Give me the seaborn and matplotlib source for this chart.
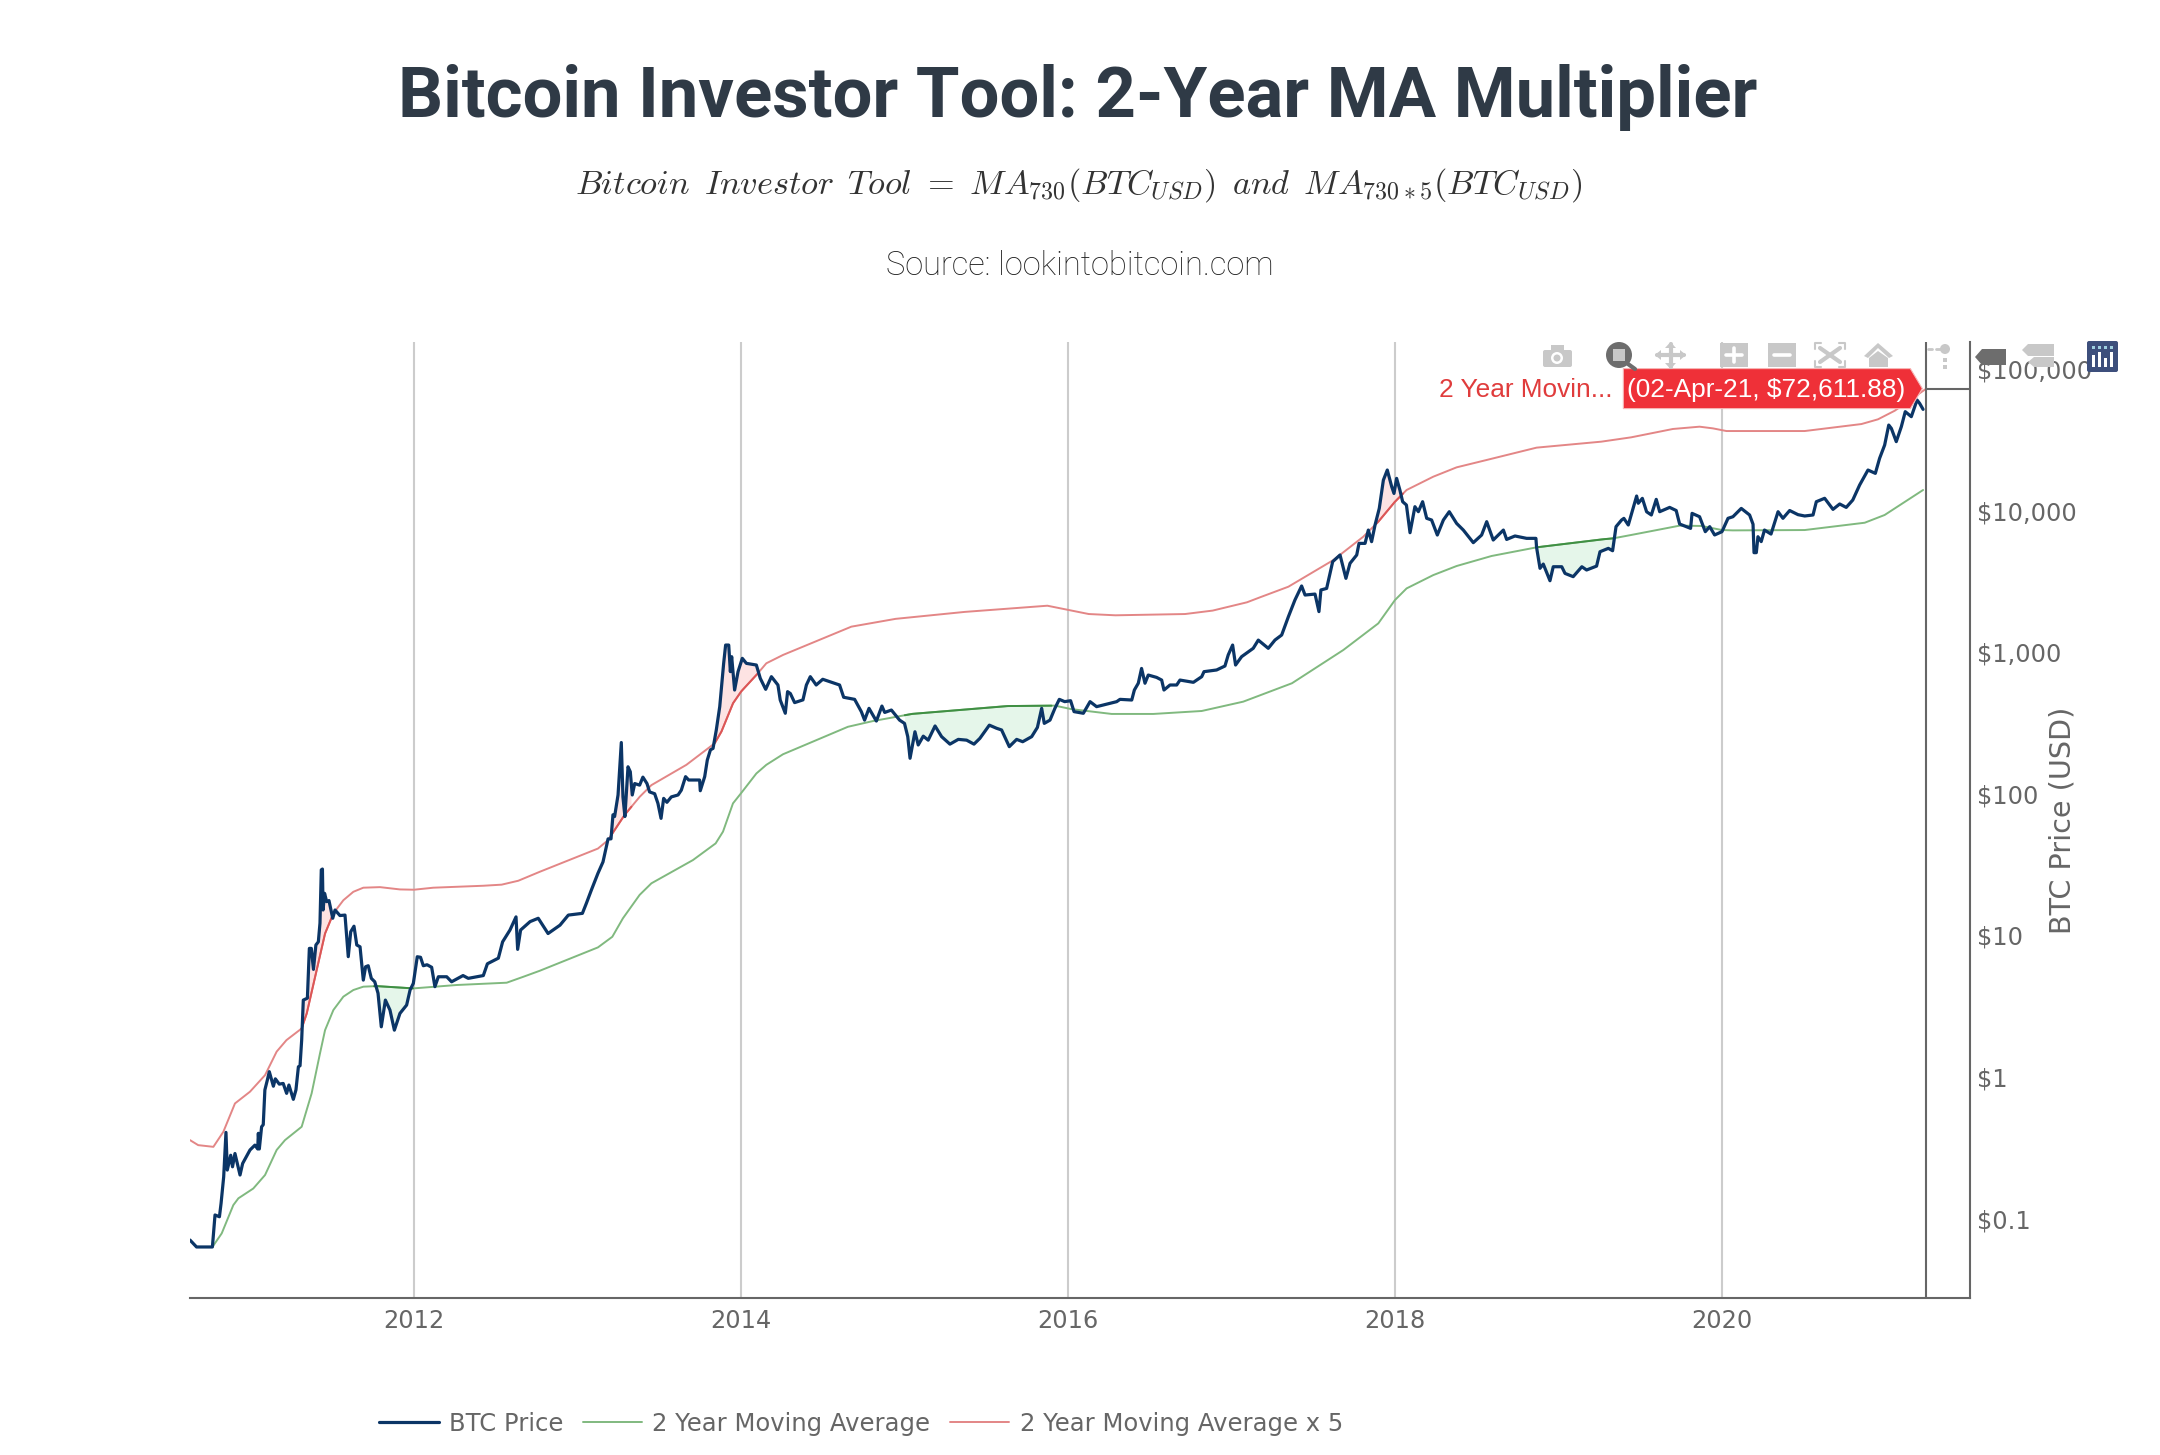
import numpy as np
import pandas as pd
import matplotlib
matplotlib.use("Agg")
import matplotlib.pyplot as plt
from matplotlib.patches import Polygon, Rectangle, Circle, FancyBboxPatch
import seaborn as sns

# values: x is decimal year, y is USD
price_year = [
    2010.63, 2010.67, 2010.71, 2010.767, 2010.783, 2010.81, 2010.82, 2010.836, 2010.85, 2010.858, 2010.879, 2010.89,
    2010.905, 2010.936, 2010.952, 2010.997, 2011.027, 2011.044, 2011.048, 2011.054, 2011.068, 2011.078, 2011.088,
    2011.103, 2011.115, 2011.14, 2011.152, 2011.176, 2011.2, 2011.221, 2011.235, 2011.262, 2011.278, 2011.293,
    2011.303, 2011.313, 2011.323, 2011.348, 2011.36, 2011.372, 2011.385, 2011.40, 2011.415, 2011.425, 2011.433,
    2011.44, 2011.444, 2011.453, 2011.466, 2011.48, 2011.503, 2011.517, 2011.547, 2011.578, 2011.598, 2011.613,
    2011.633, 2011.65, 2011.67, 2011.69, 2011.704, 2011.72, 2011.739, 2011.76, 2011.78, 2011.80, 2011.825, 2011.853,
    2011.88, 2011.914, 2011.955, 2011.976, 2011.996, 2012.02, 2012.04, 2012.057, 2012.08, 2012.108, 2012.128,
    2012.149, 2012.2, 2012.23, 2012.30, 2012.332, 2012.424, 2012.449, 2012.516, 2012.542, 2012.587, 2012.624,
    2012.634, 2012.652, 2012.71, 2012.76, 2012.82, 2012.893, 2012.944, 2013.03, 2013.054, 2013.085, 2013.125,
    2013.156, 2013.176, 2013.187, 2013.205, 2013.217, 2013.227, 2013.248, 2013.268, 2013.278, 2013.29, 2013.309,
    2013.323, 2013.335, 2013.35, 2013.38, 2013.40, 2013.425, 2013.441, 2013.472, 2013.492, 2013.511, 2013.527,
    2013.547, 2013.574, 2013.615, 2013.635, 2013.661, 2013.68, 2013.747, 2013.751, 2013.778, 2013.794, 2013.813,
    2013.829, 2013.849, 2013.87, 2013.894, 2013.906, 2013.925, 2013.935, 2013.943, 2013.961, 2013.982, 2014.008,
    2014.033, 2014.094, 2014.118, 2014.151, 2014.186, 2014.226, 2014.24, 2014.271, 2014.285, 2014.302, 2014.328,
    2014.379, 2014.40, 2014.424, 2014.46, 2014.50, 2014.573, 2014.603, 2014.628, 2014.695, 2014.736, 2014.756,
    2014.783, 2014.828, 2014.862, 2014.879, 2014.92, 2014.97, 2015.0, 2015.02, 2015.034, 2015.064, 2015.084,
    2015.115, 2015.145, 2015.187, 2015.227, 2015.278, 2015.329, 2015.38, 2015.425, 2015.461, 2015.519, 2015.563,
    2015.594, 2015.641, 2015.686, 2015.723, 2015.778, 2015.813, 2015.839, 2015.855, 2015.89, 2015.92, 2015.947,
    2015.98, 2016.016, 2016.037, 2016.094, 2016.135, 2016.175, 2016.298, 2016.318, 2016.39, 2016.406, 2016.43,
    2016.45, 2016.471, 2016.491, 2016.542, 2016.573, 2016.587, 2016.624, 2016.665, 2016.685, 2016.767, 2016.818,
    2016.832, 2016.909, 2016.96, 2016.98, 2017.007, 2017.025, 2017.062, 2017.133, 2017.164, 2017.225, 2017.266,
    2017.307, 2017.348, 2017.388, 2017.429, 2017.45, 2017.511, 2017.535, 2017.547, 2017.582, 2017.619, 2017.664,
    2017.70, 2017.725, 2017.766, 2017.78, 2017.817, 2017.837, 2017.857, 2017.878, 2017.904, 2017.929, 2017.953,
    2017.98, 2017.994, 2018.01, 2018.03, 2018.047, 2018.07, 2018.092, 2018.122, 2018.143, 2018.169, 2018.194,
    2018.224, 2018.259, 2018.296, 2018.332, 2018.377, 2018.418, 2018.479, 2018.53, 2018.561, 2018.601, 2018.663,
    2018.683, 2018.734, 2018.805, 2018.862, 2018.866, 2018.887, 2018.907, 2018.948, 2018.968, 2019.02, 2019.04,
    2019.09, 2019.143, 2019.172, 2019.233, 2019.254, 2019.305, 2019.331, 2019.352, 2019.386, 2019.40, 2019.427,
    2019.478, 2019.488, 2019.513, 2019.539, 2019.568, 2019.598, 2019.619, 2019.68, 2019.72, 2019.741, 2019.808,
    2019.817, 2019.863, 2019.898, 2019.925, 2019.955, 2020.0, 2020.037, 2020.067, 2020.118, 2020.169, 2020.19,
    2020.196, 2020.21, 2020.22, 2020.24, 2020.26, 2020.30, 2020.343, 2020.373, 2020.414, 2020.465, 2020.506, 2020.557,
    2020.577, 2020.628, 2020.679, 2020.72, 2020.76, 2020.80, 2020.842, 2020.893, 2020.938, 2020.964, 2020.995,
    2021.02, 2021.036, 2021.066, 2021.097, 2021.121, 2021.158, 2021.193, 2021.209, 2021.23,
]
price_usd = [
    0.0705, 0.063, 0.063, 0.063, 0.106, 0.103, 0.128, 0.197, 0.406, 0.22, 0.28, 0.232,
    0.288, 0.203, 0.245, 0.305, 0.33, 0.31, 0.40, 0.31, 0.445, 0.46, 0.81,
    0.95, 1.09, 0.86, 0.97, 0.89, 0.90, 0.766, 0.877, 0.695, 0.81, 1.18,
    1.2, 1.82, 3.49, 3.6, 8.09, 8.09, 5.75, 8.55, 9.0, 12.2, 29.0,
    29.4, 15.1, 19.8, 17.3, 17.6, 13.2, 15.1, 13.8, 13.9, 7.07, 10.6,
    11.6, 8.55, 8.3, 4.83, 6.0, 6.1, 4.97, 4.7, 3.9, 2.26, 3.49, 2.97,
    2.14, 2.81, 3.22, 4.11, 4.58, 7.06, 7.0, 6.1, 6.2, 5.95, 4.34,
    5.1, 5.1, 4.7, 5.2, 4.97, 5.2, 6.3, 6.9, 9.0, 10.9, 13.5,
    7.96, 10.9, 12.5, 13.2, 10.3, 11.8, 13.9, 14.3, 16.8, 20.9, 27.4,
    33, 42, 48, 48, 71, 69, 98, 230, 95, 69, 155,
    143, 98, 118, 115, 131, 118, 103, 100, 85.5, 67, 92.7,
    87, 95, 98, 106, 132, 125, 125, 105, 132, 173, 204,
    209, 282, 412, 833, 1122, 1122, 728, 929, 540, 728, 904,
    833, 811, 653, 546, 671, 586, 459, 370, 526, 510, 440,
    460, 586, 671, 586, 643, 602, 586, 480, 464, 380, 331,
    401, 326, 416, 375, 390, 331, 314, 253, 178, 274, 221,
    255, 239, 301, 253, 224, 242, 239, 224, 246, 305, 290,
    282, 215, 242, 233, 253, 294, 401, 314, 331, 401, 464,
    447, 454, 380, 370, 447, 412, 447, 464, 459, 540, 603,
    767, 603, 689, 663, 635, 540, 586, 586, 635, 612, 671,
    728, 748, 798, 955, 1122, 811, 929, 1064, 1216, 1064, 1217,
    1321, 1778, 2333, 2931, 2531, 2570, 1932, 2748, 2818, 4355, 4853,
    3319, 4236, 4853, 5861, 5861, 7278, 6026, 7900, 10358, 16400, 19320,
    14730, 13200, 16870, 13960, 11540, 10940, 6970, 10640, 9810, 11540, 8810,
    8570, 6714, 8570, 9810, 8110, 7278, 5930, 6714, 8340, 6190, 7278,
    6250, 6610, 6360, 6360, 5495, 3908, 4188, 3193, 4009, 4009, 3597,
    3411, 4009, 3802, 4050, 5117, 5405, 5200, 7691, 8570, 8800, 7900,
    12660, 11250, 12190, 9800, 9300, 11990, 9810, 10520, 10000, 8030, 7480,
    9550, 9040, 7090, 7690, 6720, 7090, 8810, 9040, 10350, 9300, 8000,
    5040, 5040, 6530, 6030, 7280, 6820, 9810, 8810, 10000, 9350, 9150, 9300,
    11540, 12200, 10190, 11120, 10520, 11860, 15140, 19320, 18300, 23350, 29000,
    40150, 38000, 30650, 39100, 49900, 46000, 60300, 57100, 51800,
]

ma_year = [
    2010.767, 2010.824, 2010.895, 2010.926, 2011.017, 2011.089, 2011.16, 2011.211, 2011.313, 2011.374, 2011.425,
    2011.456, 2011.507, 2011.568, 2011.629, 2011.69, 2011.772, 2011.996, 2012.261, 2012.567, 2012.669, 2012.769,
    2013.125, 2013.213, 2013.278, 2013.38, 2013.452, 2013.706, 2013.845, 2013.89, 2013.951, 2014.0, 2014.094,
    2014.155, 2014.257, 2014.654, 2014.807, 2014.93, 2015.044, 2015.625, 2015.92, 2016.02, 2016.267, 2016.522,
    2016.818, 2017.072, 2017.37, 2017.684, 2017.898, 2018.0, 2018.071, 2018.234, 2018.377, 2018.591, 2018.866,
    2019.262, 2019.335, 2019.445, 2019.572, 2019.741, 2019.874, 2020.0, 2020.067, 2020.506, 2020.873, 2020.995,
    2021.23,
]
ma_usd = [
    0.063, 0.0786, 0.1245, 0.139, 0.163, 0.203, 0.305, 0.358, 0.445, 0.766, 1.465,
    2.14, 2.97, 3.69, 4.11, 4.34, 4.38, 4.22, 4.46, 4.63, 5.1, 5.62,
    8.22, 9.77, 13.2, 19.3, 23.3, 34, 44.6, 54, 85.5, 100.7, 139,
    160, 190, 297, 326, 346, 366, 416, 419, 396, 366, 366,
    384, 447, 603, 1035, 1596, 2333, 2818, 3499, 4056, 4775, 5495,
    6250, 6360, 6720, 7170, 7820, 7780, 7280, 7240, 7280, 8200, 9300,
    13960,
]

ma5_year = [
    2010.63, 2010.68, 2010.773, 2010.834, 2010.905, 2010.997, 2011.089, 2011.16, 2011.22, 2011.313, 2011.344,
    2011.405, 2011.456, 2011.507, 2011.568, 2011.629, 2011.69, 2011.792, 2011.914, 2012.0, 2012.118, 2012.424,
    2012.536, 2012.638, 2012.769, 2013.125, 2013.187, 2013.227, 2013.288, 2013.38, 2013.452, 2013.666, 2013.839,
    2013.88, 2013.951, 2014.0, 2014.094, 2014.155, 2014.257, 2014.675, 2014.946, 2015.368, 2015.874, 2016.127,
    2016.29, 2016.716, 2016.885, 2017.095, 2017.174, 2017.348, 2017.623, 2017.806, 2017.898, 2018.0, 2018.071,
    2018.234, 2018.377, 2018.561, 2018.866, 2019.262, 2019.445, 2019.70, 2019.863, 2019.945, 2020.027, 2020.506,
    2020.853, 2020.954, 2021.057, 2021.25,
]
ma5_usd = [
    0.358, 0.33, 0.321, 0.41, 0.65, 0.787, 1.03, 1.51, 1.82, 2.2, 2.81,
    5.7, 10.3, 14.3, 17.7, 20.3, 21.7, 21.9, 21.1, 21, 21.7, 22.4,
    22.8, 24.3, 28.1, 41, 47, 55.4, 70.8, 95, 115, 160, 227,
    274, 435, 526, 689, 834, 955, 1513, 1718, 1923, 2127, 1858,
    1820, 1858, 1965, 2249, 2437, 2897, 4467, 6530, 8337, 11540, 13960,
    17330, 20180, 22750, 27800, 30640, 32880, 37660, 39090, 38020, 36420, 36420,
    40800, 44050, 50700, 72611.88,
]

# stretches the chart shades, under the 2y MA and over the 2y MA x 5
buy_zones = [(2011.755, 2011.995), (2015.0, 2015.9), (2018.865, 2019.335)]
sell_zones = [(2011.31, 2011.51), (2013.2, 2013.33), (2013.84, 2014.1), (2017.885, 2018.05)]

year_ticks = [2012, 2014, 2016, 2018, 2020]
usd_ticks = [0.1, 1, 10, 100, 1000, 10000, 100000]
usd_labels = ["$0.1", "$1", "$10", "$100", "$1,000", "$10,000", "$100,000"]
legend_names = ["BTC Price", "2 Year Moving Average", "2 Year Moving Average x 5"]
hover_year = 2021.25
hover_usd = 72611.88
hover_text = "(02-Apr-21, $72,611.88)"

NAVY = "#0b3566"
GREEN = "#80b97f"
GREEN_DARK = "#3f8f43"
RED = "#e38686"
RED_DARK = "#dc5656"
AXIS = "#666666"
ICON = "#c8c8c8"
ICON_ON = "#6d6d6d"

sns.set_theme(style="white")
plt.rcParams["font.family"] = ["DejaVu Sans"]
plt.rcParams["mathtext.fontset"] = "cm"

W, H = 2160, 1455
fig = plt.figure(figsize=(W / 100, H / 100), dpi=100, facecolor="white")
ax = fig.add_axes([190 / W, 1 - 1298 / H, 1780 / W, 956 / H])

df_price = pd.DataFrame({"year": price_year, "usd": price_usd})
df_ma = pd.DataFrame({"year": ma_year, "usd": ma_usd})
df_ma5 = pd.DataFrame({"year": ma5_year, "usd": ma5_usd})

sns.lineplot(data=df_price, x="year", y="usd", ax=ax, color=NAVY, lw=2.3, estimator=None, sort=False,
             label=legend_names[0], zorder=6)
sns.lineplot(data=df_ma, x="year", y="usd", ax=ax, color=GREEN, lw=1.4, estimator=None, sort=False,
             label=legend_names[1], zorder=4)
sns.lineplot(data=df_ma5, x="year", y="usd", ax=ax, color=RED, lw=1.4, estimator=None, sort=False,
             label=legend_names[2], zorder=4)

# shading needs all three series on one x grid, in log space because the axis is log
grid = np.linspace(price_year[0], price_year[-1], 6000)
p_g = 10 ** np.interp(grid, price_year, np.log10(price_usd))
ma_g = 10 ** np.interp(grid, ma_year, np.log10(ma_usd))
ma5_g = 10 ** np.interp(grid, ma5_year, np.log10(ma5_usd))

for a, b in buy_zones:
    m = (grid >= a) & (grid <= b)
    ax.fill_between(grid, p_g, ma_g, where=m & (p_g < ma_g), color="#e5f6ea", lw=0, zorder=2)
    ax.plot(grid[m], ma_g[m], color=GREEN_DARK, lw=1.4, zorder=5)
for a, b in sell_zones:
    m = (grid >= a) & (grid <= b)
    ax.fill_between(grid, p_g, ma5_g, where=m & (p_g > ma5_g), color="#fde3e3", lw=0, zorder=2)
    ax.plot(grid[m], ma5_g[m], color=RED_DARK, lw=1.4, zorder=5)

ax.set_yscale("log")
ax.set_xlim(2010.63, 2021.517)
ax.set_ylim(0.02748, 154900)
ax.set_xlabel("")
ax.set_xticks(year_ticks)
ax.set_xticklabels([str(y) for y in year_ticks])
ax.yaxis.tick_right()
ax.set_yticks(usd_ticks)
ax.set_yticklabels(usd_labels)
ax.minorticks_off()
ax.tick_params(axis="x", length=0, pad=8, labelsize=17.3, labelcolor=AXIS)
ax.tick_params(axis="y", length=0, pad=5, labelsize=17.3, labelcolor=AXIS)
ax.yaxis.set_label_position("right")
ax.set_ylabel("BTC Price (USD)", fontsize=20.6, color=AXIS, rotation=90)
ax.yaxis.set_label_coords((2049 - 190) / 1780, 0.5)
ax.grid(False)
for y in year_ticks:
    ax.axvline(y, color="#cccccc", lw=1.5, zorder=1)

ax.spines["top"].set_visible(False)
ax.spines["left"].set_visible(False)
for s in ["bottom", "right"]:
    ax.spines[s].set_color(AXIS)
    ax.spines[s].set_linewidth(1.5)

# hover spikes
ax.axvline(hover_year, color=AXIS, lw=1.5, zorder=7)
ax.plot([hover_year, 2021.517], [hover_usd, hover_usd], color=AXIS, lw=1.5, zorder=7, solid_capstyle="butt")

handles, labels = ax.get_legend_handles_labels()
ax.legend(handles[:3], labels[:3], loc="center left", bbox_to_anchor=(379 / W, 1 - 1424 / H),
          bbox_transform=fig.transFigure, ncol=3, frameon=False, borderpad=0, borderaxespad=0,
          handlelength=2.45, handletextpad=0.42, columnspacing=0.8, labelcolor=AXIS,
          prop={"family": "DejaVu Sans", "size": 17.5})

# titles
fig.text(1078 / W, 1 - 117 / H, "Bitcoin Investor Tool: 2-Year MA Multiplier", ha="center", va="baseline",
         family="Roboto", weight="bold", fontsize=50.9, color="#2f3a46")
fig.text(1079 / W, 1 - 185 / H,
         r"$Bitcoin\ \,Investor\ \,Tool\ =\ MA_{730}(BTC_{USD})\ \,and\ \,MA_{730*5}(BTC_{USD})$",
         ha="center", va="center", fontsize=24.7, color="#333333")
fig.text(1079.5 / W, 1 - 266 / H, "Source: lookintobitcoin.com", ha="center", va="center",
         family="Roboto", weight="light", fontsize=23.5, color="#1f1f1f")

# pixel overlay for the plotly hover box and the modebar
ov = fig.add_axes([0, 0, 1, 1], facecolor="none", zorder=10)
ov.set_xlim(0, W)
ov.set_ylim(H, 0)
ov.axis("off")

tip_x, tip_y = ax.transData.transform((hover_year, hover_usd))
tip_x, tip_y = tip_x - 4, H - tip_y
ov.add_patch(Polygon([(tip_x - 299, tip_y - 20), (tip_x - 12, tip_y - 20), (tip_x, tip_y), (tip_x - 12, tip_y + 20),
                      (tip_x - 299, tip_y + 20)], closed=True, fc="#ef3038", ec="#f7b5b5", lw=0.8))
ov.text(tip_x - 156, tip_y + 1, hover_text, color="white", ha="center", va="center", family="Liberation Sans", fontsize=18.9)
ov.text(tip_x - 310, tip_y + 1.5, "2 Year Movin...", color="#e03c3c", ha="right", va="center", family="Liberation Sans",
        fontsize=18.9)

# camera
ov.add_patch(FancyBboxPatch((1543, 350), 29, 17, boxstyle="round,pad=0,rounding_size=2", fc=ICON, ec="none"))
ov.add_patch(Rectangle((1551, 345), 13, 6, fc=ICON, ec="none"))
ov.add_patch(Circle((1557, 358), 6, fc="white", ec="none"))
ov.add_patch(Circle((1557, 358), 3.5, fc=ICON, ec="none"))
# zoom, active
ov.add_patch(Circle((1619, 355), 13, fc=ICON_ON, ec="none"))
ov.add_patch(Rectangle((1613, 349), 12, 12, fc=ICON, ec="none"))
ov.plot([1628, 1635], [364, 369], color=ICON_ON, lw=3)
# pan
ov.plot([1657, 1684], [355, 355], color=ICON, lw=3)
ov.plot([1670.5, 1670.5], [344, 367], color=ICON, lw=3)
for pts in ([(1655, 355), (1661, 350), (1661, 360)], [(1686, 355), (1680, 350), (1680, 360)],
            [(1670.5, 342), (1665, 348), (1676, 348)], [(1670.5, 369), (1665, 363), (1676, 363)]):
    ov.add_patch(Polygon(pts, fc=ICON, ec="none"))
# zoom in, zoom out
ov.add_patch(Rectangle((1720, 343), 28, 24, fc=ICON, ec="none"))
ov.plot([1726, 1742], [355, 355], color="white", lw=2.6)
ov.plot([1734, 1734], [348, 362], color="white", lw=2.6)
ov.add_patch(Rectangle((1768, 343), 28, 24, fc=ICON, ec="none"))
ov.plot([1774, 1790], [355, 355], color="white", lw=2.6)
# autoscale
ov.plot([1815, 1815, 1821], [349, 343, 343], color=ICON, lw=1.5)
ov.plot([1839, 1845, 1845], [343, 343, 349], color=ICON, lw=1.5)
ov.plot([1815, 1815, 1821], [361, 367, 367], color=ICON, lw=1.5)
ov.plot([1839, 1845, 1845], [367, 367, 361], color=ICON, lw=1.5)
ov.plot([1820, 1840], [348, 362], color=ICON, lw=3)
ov.plot([1840, 1820], [348, 362], color=ICON, lw=3)
# home
ov.add_patch(Polygon([(1864, 356), (1878, 343), (1893, 356), (1889, 358), (1878, 348), (1868, 358)], fc=ICON, ec="none"))
ov.add_patch(Polygon([(1869, 358), (1878, 351), (1888, 358), (1888, 367), (1869, 367)], fc=ICON, ec="none"))
# spike lines
ov.plot([1928, 1932], [349, 349], color=ICON, lw=2)
ov.plot([1936, 1940], [349, 349], color=ICON, lw=2)
ov.add_patch(Circle((1945, 349), 5, fc=ICON, ec="none"))
ov.add_patch(Rectangle((1943, 358), 4, 4, fc=ICON, ec="none"))
ov.add_patch(Rectangle((1943, 365), 4, 4, fc=ICON, ec="none"))
# hover closest, hover compare
ov.add_patch(Polygon([(1975, 357), (1982, 349), (2006, 349), (2006, 365), (1982, 365)], fc=ICON_ON, ec="none"))
ov.add_patch(Polygon([(2022, 350), (2028, 344), (2054, 344), (2054, 356), (2028, 356)], fc=ICON, ec="none"))
ov.add_patch(Polygon([(2028, 362), (2034, 357), (2054, 357), (2054, 367), (2034, 367)], fc=ICON, ec="none"))
# logo
ov.add_patch(FancyBboxPatch((2087, 341), 31, 31, boxstyle="round,pad=0,rounding_size=2", fc="#3d4f7c", ec="none"))
for x0, top in zip([2092, 2098, 2104, 2110], [355, 352, 358, 352]):
    ov.add_patch(Rectangle((x0, top), 2.5, 367 - top, fc="white", ec="none"))
    ov.add_patch(Rectangle((x0, 346), 2.5, 2.5, fc="#9fd0e0", ec="none"))

fig.savefig("out.png", dpi=100, facecolor="white")
